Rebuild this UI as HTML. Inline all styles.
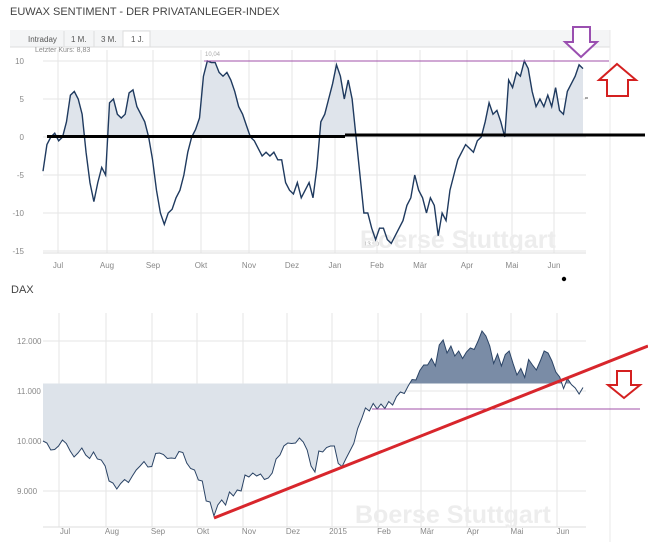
<!DOCTYPE html>
<html><head><meta charset="utf-8">
<style>
html,body{margin:0;padding:0;background:#fff;}
svg{display:block;font-family:"Liberation Sans",sans-serif;}
</style></head>
<body>
<svg id="c" width="648" height="542" viewBox="0 0 648 542" xmlns="http://www.w3.org/2000/svg">
<text x="10" y="15" font-size="11" fill="#444">EUWAX SENTIMENT - DER PRIVATANLEGER-INDEX</text>
<g>
<rect x="10" y="30" width="600" height="17" fill="#f4f5f6"/>
<line x1="10" y1="47" x2="610" y2="47" stroke="#ddd"/>
<rect x="123" y="31" width="27" height="16" fill="#fff" stroke="#ddd"/>
<text x="28" y="42" font-size="8" fill="#555">Intraday</text>
<line x1="64" y1="31" x2="64" y2="47" stroke="#ddd"/>
<text x="71" y="42" font-size="8" fill="#555">1 M.</text>
<line x1="94" y1="31" x2="94" y2="47" stroke="#ddd"/>
<text x="101" y="42" font-size="8" fill="#555">3 M.</text>
<text x="131" y="42" font-size="8" fill="#555">1 J.</text>
</g>
<text x="35" y="52" font-size="7" fill="#888">Letzter Kurs: 8,83</text>
<text x="205" y="56" font-size="6" fill="#aaa">10,04</text>
<text x="362" y="246" font-size="6" fill="#aaa">-13,90</text>
<line x1="610" y1="30" x2="610" y2="542" stroke="#e8e8e8"/>
<g id="top"></g>
<g id="bot"></g>
<text x="11" y="293" font-size="11" fill="#444">DAX</text>
</svg>
<script>
const topValues=[-4.5,-1,0,0.5,-0.5,0,2,5.5,6,5,3,-2,-6,-8.5,-6,-4,-5,4.5,5,3,2.5,3,5.8,6.2,4,3,2,0,-3,-7,-10,-11.5,-10,-9.5,-8,-7,-5,-2,0,1,2.5,8,10,9.8,9.8,8.5,8,8.5,7.5,6,4,3,1.5,0,-0.5,-1.5,-2.5,-2,-2.5,-2,-3,-3,-6,-7,-7.5,-6,-8,-7,-6,-8,-4,2,3,5,7,9.5,8,5,7.5,5,0,-5,-10,-10,-12,-13.5,-12,-12,-13.5,-14,-13,-12,-11,-9,-8,-5,-7,-8,-10,-8,-9,-13,-10,-11,-7,-5,-3,-2,-1,-1.5,-2,-0.5,0,2,4.5,3,3.5,2,0,7.5,6.5,8.5,8,10,9,6,4,5,4,5.5,4,6.5,3.5,3,6,7,8,9.5,9];
const topTicks=[10,5,0,-5,-10,-15];
const topTickLabels=["10","5","0","-5","-10","-15"];
const topMonths=["Jul","Aug","Sep","Okt","Nov","Dez","Jan","Feb","Mär","Apr","Mai","Jun"];
const daxValues=[10000,9960,9820,9830,9900,10020,9950,9800,9680,9760,9860,9720,9650,9780,9640,9620,9500,9200,9160,9040,9150,9230,9170,9300,9420,9500,9590,9480,9490,9750,9760,9730,9650,9660,9650,9790,9770,9560,9450,9420,9220,9200,8800,8780,8500,8720,8820,8720,8980,8900,9020,9000,9320,9280,9360,9300,9340,9230,9260,9360,9640,9720,9900,9960,9950,9960,10060,9980,9820,9500,9380,9800,9780,9870,9900,9900,9550,9490,9650,9800,9950,10250,10440,10660,10600,10750,10640,10740,10650,10790,10720,10890,10980,10950,11100,11230,11220,11410,11520,11520,11650,11500,11920,12020,11760,11900,11700,11800,11650,11780,11860,11830,12000,12200,12100,11900,11550,11740,11500,11730,11800,11550,11320,11450,11270,11630,11520,11420,11600,11800,11760,11600,11380,11280,11050,11250,11130,11060,10940,11070];
const daxTicks=[12000,11000,10000,9000];
const daxTickLabels=["12.000","11.000","10.000","9.000"];
const daxMonths=["Jul","Aug","Sep","Okt","Nov","Dez","2015","Feb","Mär","Apr","Mai","Jun"];
const daxThreshold=11150;

const NS="http://www.w3.org/2000/svg";
function mk(p,tag,attrs){const e=document.createElementNS(NS,tag);for(const k in attrs)e.setAttribute(k,attrs[k]);p.appendChild(e);return e;}
const X0=43,X1=583;
const topMonthX=[58,107,153,201,249,292,335,377,420,467,512,554];
const botMonthX=[59,106,152,197,243,287,332,378,421,467,511,557];
function xs(i,n){return X0+i*(X1-X0)/(n-1);}
const ty=v=>137-v*7.6;
const by=v=>441-(v-10000)*0.05;

const T=document.getElementById('top');
topTicks.forEach((t,i)=>{
 const g=mk(T,'line',{x1:43,x2:586,y1:ty(t),y2:ty(t),stroke:'#e6e6e6'});
 
 const l=mk(T,'text',{x:24,y:ty(t)+3,'font-size':8,fill:'#888','text-anchor':'end'});
 
 l.textContent=topTickLabels[i];
});
topMonths.forEach((m,i)=>{
 const g=mk(T,'line',{x1:topMonthX[i],x2:topMonthX[i],y1:50,y2:253,stroke:'#e6e6e6'});
 
 const l=mk(T,'text',{x:topMonthX[i],y:268,'font-size':8,fill:'#888','text-anchor':'middle'});
 
 l.textContent=m;
});
mk(T,'line',{x1:43,x2:586,y1:253,y2:253,stroke:'#ddd'});
const wm1=mk(T,'text',{x:360,y:248,'font-size':25,'font-weight':'bold',fill:'#ededed'});

wm1.textContent='Boerse Stuttgart';
const n1=topValues.length;
let pts=topValues.map((v,i)=>[xs(i,n1),ty(v)]);
const clipT=mk(T,'clipPath',{id:'abovezero'});
mk(clipT,'rect',{x:0,y:0,width:648,height:ty(0)});
const af=mk(T,'path',{d:'M'+X0+','+ty(0)+' L'+pts.map(p=>p.join(',')).join(' L')+' L'+X1+','+ty(0)+'Z',fill:'#dfe4eb','clip-path':'url(#abovezero)'});

const tl=mk(T,'path',{d:'M'+pts.map(p=>p.join(',')).join(' L'),fill:'none',stroke:'#1f3a5f','stroke-width':1.4});

const pl=mk(T,'line',{x1:204,x2:609,y1:61,y2:61,stroke:'#a050a8','stroke-width':1});

const z1=mk(T,'path',{d:'M47,136.5 L345,136.5 M345,135 L645,135',stroke:'#000','stroke-width':3,fill:'none'});

const pa=mk(T,'path',{d:'M573,27 L590,27 L590,42 L597,42 L581,57 L565,42 L573,42 Z',fill:'#fff',stroke:'#9a4fb0','stroke-width':2});

const ra=mk(T,'path',{d:'M617,64 L636,80 L628,80 L628,96 L607,96 L607,80 L599,80 Z',fill:'#fff',stroke:'#d42020','stroke-width':2});

mk(T,'line',{x1:585,x2:588,y1:98,y2:98,stroke:'#555'});
const dot=mk(T,'circle',{cx:564,cy:279,r:2.2,fill:'#000'});


const B=document.getElementById('bot');
daxTicks.forEach((t,i)=>{
 const g=mk(B,'line',{x1:43,x2:586,y1:by(t),y2:by(t),stroke:'#e6e6e6'});
 
 const l=mk(B,'text',{x:17,y:by(t)+3,'font-size':8,fill:'#888'});
 
 l.textContent=daxTickLabels[i];
});
daxMonths.forEach((m,i)=>{
 const g=mk(B,'line',{x1:botMonthX[i],x2:botMonthX[i],y1:313,y2:527,stroke:'#e6e6e6'});
 
 const l=mk(B,'text',{x:botMonthX[i]+6,y:534,'font-size':8,fill:'#888','text-anchor':'middle'});
 
 l.textContent=m;
});
mk(B,'line',{x1:43,x2:586,y1:527,y2:527,stroke:'#ddd'});
const wm2=mk(B,'text',{x:355,y:523,'font-size':25,'font-weight':'bold',fill:'#ededed'});

wm2.textContent='Boerse Stuttgart';
const n2=daxValues.length;
const dp=daxValues.map((v,i)=>[xs(i,n2),by(v)]);
const ty0=by(daxThreshold);
const areaD='M'+X0+','+ty0+' L'+dp.map(p=>p.join(',')).join(' L')+' L'+X1+','+ty0+'Z';
const cA=mk(B,'clipPath',{id:'aboveT'});mk(cA,'rect',{x:0,y:0,width:648,height:ty0});
const cBl=mk(B,'clipPath',{id:'belowT'});mk(cBl,'rect',{x:0,y:ty0,width:410,height:300});
const la=mk(B,'path',{d:areaD,fill:'#dde3ea','clip-path':'url(#belowT)'});

const da=mk(B,'path',{d:areaD,fill:'#7a8ca6','clip-path':'url(#aboveT)'});

const dl=mk(B,'path',{d:'M'+dp.map(p=>p.join(',')).join(' L'),fill:'none',stroke:'#2b4466','stroke-width':1});

const bp=mk(B,'line',{x1:372,x2:640,y1:409,y2:409,stroke:'#a050a8','stroke-width':1});

const tr=mk(B,'line',{x1:214,y1:518,x2:648,y2:346,stroke:'#d8262c','stroke-width':3});

const rd=mk(B,'path',{d:'M617,371 L631,371 L631,385 L640,385 L624,398 L608,385 L617,385 Z',fill:'#fff',stroke:'#d42020','stroke-width':2});

</script>
</body></html>
